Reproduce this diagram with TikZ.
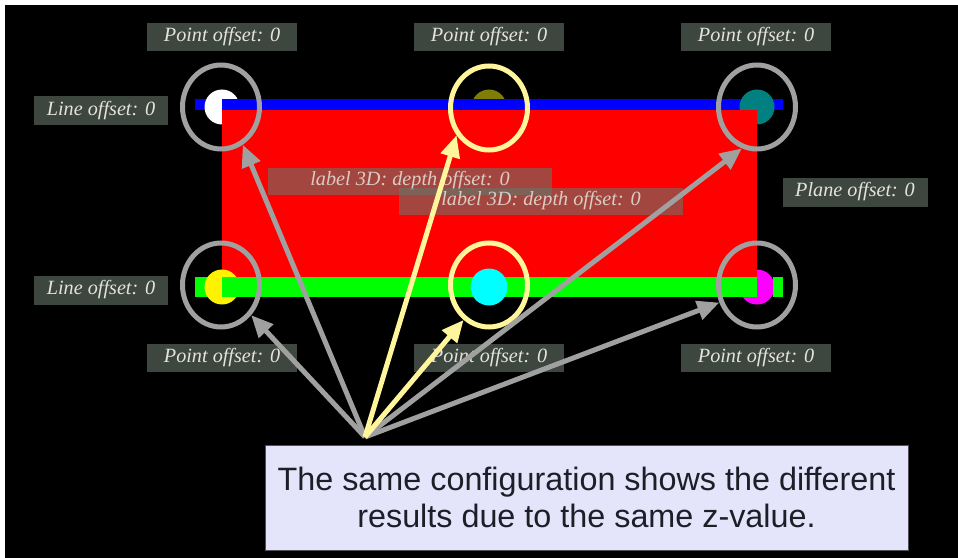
\documentclass[tikz,border=0pt]{standalone}
\usepackage{fontspec}
\setmainfont{Liberation Serif}
\setsansfont{Liberation Sans}
\usetikzlibrary{arrows.meta,shapes.geometric}
\definecolor{boxgray}{RGB}{102,118,106}
\definecolor{tagtext}{RGB}{228,228,220}
\definecolor{ringgray}{RGB}{160,160,160}
\definecolor{ringyellow}{RGB}{255,245,155}
\definecolor{olivedot}{RGB}{128,124,8}
\definecolor{tealdot}{RGB}{0,128,128}
\definecolor{cyandot}{RGB}{0,255,255}
\definecolor{magentadot}{RGB}{255,0,255}
\definecolor{notefill}{RGB}{228,228,250}
\definecolor{noteline}{RGB}{80,80,90}
\definecolor{notetext}{RGB}{30,30,40}
\begin{document}
\begin{tikzpicture}[x = 0.2mm, y = -0.2mm,
                    disc/.style = {circle, inner sep = 0, minimum size = 7mm},
                    ring/.style = {ellipse, draw = ringgray, line width = 1mm, inner sep = 0,
                                   minimum width = 15.4mm, minimum height = 16.8mm},
                    hot/.style = {draw = ringyellow},
                    tag/.style = {fill = boxgray, fill opacity = 0.6, text opacity = 1, text = tagtext,
                                  inner sep = 0, minimum width = 30mm, minimum height = 5.6mm,
                                  font = \fontsize{11.5}{13}\selectfont\itshape},
                    deep/.style = {tag, text opacity = 0.85, minimum width = 56.8mm, minimum height = 5.4mm},
                    ptr/.style = {draw = ringgray, line width = 1mm,
                                  -{Triangle[width = 3.8mm, length = 4.4mm]}},
                    note/.style = {draw = noteline, fill = notefill, text = notetext, align = center,
                                   minimum width = 128.6mm, minimum height = 21mm, inner sep = 0,
                                   font = \sffamily\fontsize{18.4}{21}\selectfont}]
                    \useasboundingbox (0, 0) rectangle (958, 558);
                    \fill[white] (0, 0) rectangle (958, 558);
                    \fill[black] (5, 5) rectangle (958, 558);

                    \node[disc, fill = olivedot] (pTM) at (489, 107) {};
                    \fill[blue] (195, 99) rectangle (783, 110);
                    \node[disc, fill = white] (pTL) at (222, 107) {};
                    \fill[blue] (222, 99) rectangle (240, 110);
                    \node[disc, fill = tealdot] (pTR) at (757, 107) {};
                    \node[disc, fill = magentadot] (pBR) at (757, 287) {};

                    \fill[red] (222, 110) rectangle (757, 287);

                    \fill[green] (195, 277) rectangle (757, 297);
                    \fill[green] (773, 277) rectangle (783, 297);
                    \node[disc, fill = yellow] (pBL) at (222, 287) {};
                    \fill[green] (222, 277) rectangle (240, 297);
                    \node[disc, fill = cyandot, minimum size = 7.4mm] (pBM) at (489, 287) {};

                    \node[tag] (tTL) at (222, 37) {Point offset: 0};
                    \node[tag] (tTM) at (489, 37) {Point offset: 0};
                    \node[tag] (tTR) at (756, 37) {Point offset: 0};
                    \node[tag, minimum width = 26.6mm, minimum height = 5.8mm] (lTop) at (101, 111) {Line offset: 0};
                    \node[tag, minimum width = 26.6mm, minimum height = 5.8mm] (lBot) at (101, 290) {Line offset: 0};
                    \node[tag, minimum width = 29mm, minimum height = 5.8mm] (plane) at (855, 192) {Plane offset: 0};
                    \node[tag] (tBL) at (222, 358) {Point offset: 0};
                    \node[tag] (tBM) at (489, 358) {Point offset: 0};
                    \node[tag] (tBR) at (756, 358) {Point offset: 0};

                    \node[deep] (dA) at (410, 181) {label 3D: depth offset: 0};
                    \node[deep] (dB) at (541, 201) {label 3D: depth offset: 0};

                    \node[ring] (rTL) at (221, 107) {};
                    \node[ring, hot] (rTM) at (489, 108) {};
                    \node[ring] (rTR) at (757, 107) {};
                    \node[ring] (rBL) at (221, 285) {};
                    \node[ring, hot] (rBM) at (489, 285) {};
                    \node[ring] (rBR) at (757, 285) {};

                    \coordinate (src) at (365, 437);
                    \draw[ptr] (src) -- (rTL.-60);
                    \draw[ptr] (src) -- (rTR.-110);
                    \draw[ptr] (src) -- (rBL.-45);
                    \draw[ptr] (src) -- (rBR.-155);
                    \draw[ptr, draw = ringyellow, fill = ringyellow] (src) -- (rTM.-140);
                    \draw[ptr, draw = ringyellow, fill = ringyellow] (src) -- (rBM.-126);

                    \node[note] (msg) at (586.5, 497.5) {The same configuration shows the different\\results due to the same z-value.};
                \end{tikzpicture}
\end{document}
